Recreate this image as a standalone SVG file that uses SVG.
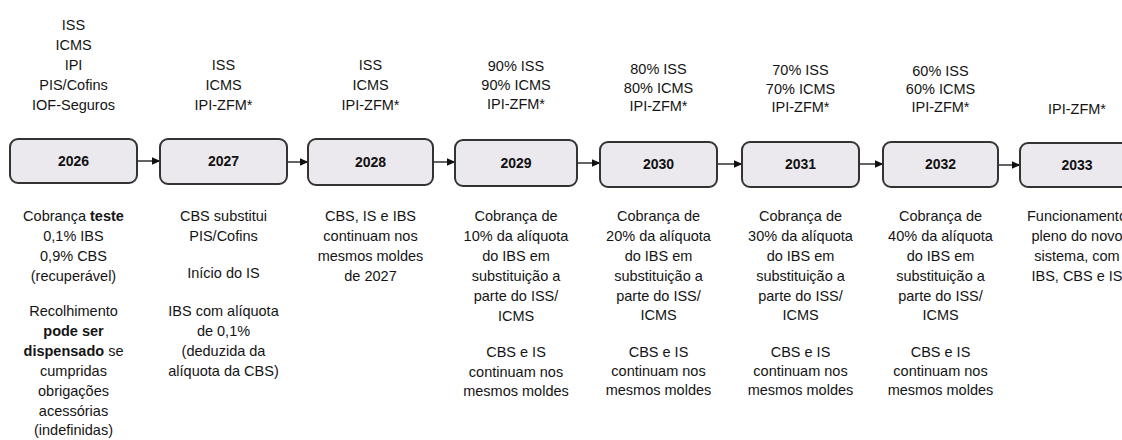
<svg xmlns="http://www.w3.org/2000/svg" width="1122" height="440" viewBox="0 0 1122 440">
<defs>
<style>
.t{font-family:"Liberation Sans",Arial,sans-serif;font-size:14.5px;fill:#141414;text-anchor:middle}
.b{font-weight:bold}
.yr{font-family:"Liberation Sans",Arial,sans-serif;font-size:14px;font-weight:bold;fill:#111;text-anchor:middle}
.box{fill:#ebe9ee;stroke:#333;stroke-width:2}
.conn{stroke:#222;stroke-width:1.4;fill:none}
</style>
<marker id="ah" markerWidth="9" markerHeight="8" refX="8.5" refY="4" orient="auto" markerUnits="userSpaceOnUse">
<path d="M0,0 L9,4 L0,8 Z" fill="#111"/>
</marker>
</defs>
<rect width="1122" height="440" fill="#ffffff"/>

<g id="connectors">
<line class="conn" x1="137" y1="161" x2="160" y2="161" marker-end="url(#ah)"/>
<line class="conn" x1="287" y1="162" x2="308" y2="162" marker-end="url(#ah)"/>
<line class="conn" x1="433" y1="162" x2="455" y2="162" marker-end="url(#ah)"/>
<line class="conn" x1="577" y1="163" x2="600" y2="163" marker-end="url(#ah)"/>
<line class="conn" x1="717" y1="164" x2="742" y2="164" marker-end="url(#ah)"/>
<line class="conn" x1="859" y1="164" x2="883" y2="164" marker-end="url(#ah)"/>
<line class="conn" x1="998" y1="165" x2="1020" y2="165" marker-end="url(#ah)"/>
</g>

<g id="n2026">
<text class="t"><tspan x="73.5" y="30">ISS</tspan><tspan x="73.5" y="50">ICMS</tspan><tspan x="73.5" y="70">IPI</tspan><tspan x="73.5" y="90">PIS/Cofins</tspan><tspan x="73.5" y="110">IOF-Seguros</tspan></text>
<rect class="box" x="10" y="139" width="127" height="44" rx="8"/>
<text class="yr" x="73.5" y="166">2026</text>
<text class="t"><tspan x="73.5" y="221">Cobrança <tspan class="b">teste</tspan></tspan><tspan x="73.5" y="241">0,1% IBS</tspan><tspan x="73.5" y="261">0,9% CBS</tspan><tspan x="73.5" y="281">(recuperável)</tspan><tspan x="73.5" y="316">Recolhimento</tspan><tspan x="73.5" y="336" class="b">pode ser</tspan><tspan x="73.5" y="356"><tspan class="b">dispensado</tspan> se</tspan><tspan x="73.5" y="376">cumpridas</tspan><tspan x="73.5" y="396">obrigações</tspan><tspan x="73.5" y="416">acessórias</tspan><tspan x="73.5" y="435">(indefinidas)</tspan></text>
</g>

<g id="n2027">
<text class="t"><tspan x="223.5" y="70">ISS</tspan><tspan x="223.5" y="90">ICMS</tspan><tspan x="223.5" y="110">IPI-ZFM*</tspan></text>
<rect class="box" x="160" y="139" width="127" height="45" rx="8"/>
<text class="yr" x="223.5" y="166">2027</text>
<text class="t"><tspan x="223.5" y="221">CBS substitui</tspan><tspan x="223.5" y="241">PIS/Cofins</tspan><tspan x="223.5" y="278">Início do IS</tspan><tspan x="223.5" y="316">IBS com alíquota</tspan><tspan x="223.5" y="336">de 0,1%</tspan><tspan x="223.5" y="356">(deduzida da</tspan><tspan x="223.5" y="376">alíquota da CBS)</tspan></text>
</g>

<g id="n2028">
<text class="t"><tspan x="370.5" y="70">ISS</tspan><tspan x="370.5" y="90">ICMS</tspan><tspan x="370.5" y="110">IPI-ZFM*</tspan></text>
<rect class="box" x="308" y="139" width="125" height="46" rx="8"/>
<text class="yr" x="370.5" y="167">2028</text>
<text class="t"><tspan x="370.5" y="221">CBS, IS e IBS</tspan><tspan x="370.5" y="241">continuam nos</tspan><tspan x="370.5" y="261">mesmos moldes</tspan><tspan x="370.5" y="281">de 2027</tspan></text>
</g>

<g id="n2029">
<text class="t"><tspan x="516" y="71">90% ISS</tspan><tspan x="516" y="90">90% ICMS</tspan><tspan x="516" y="109">IPI-ZFM*</tspan></text>
<rect class="box" x="455" y="140" width="122" height="46" rx="8"/>
<text class="yr" x="516" y="168">2029</text>
<text class="t"><tspan x="516" y="221">Cobrança de</tspan><tspan x="516" y="241">10% da alíquota</tspan><tspan x="516" y="261">do IBS em</tspan><tspan x="516" y="281">substituição a</tspan><tspan x="516" y="301">parte do ISS/</tspan><tspan x="516" y="321">ICMS</tspan><tspan x="516" y="357">CBS e IS</tspan><tspan x="516" y="377">continuam nos</tspan><tspan x="516" y="396">mesmos moldes</tspan></text>
</g>

<g id="n2030">
<text class="t"><tspan x="658.5" y="74">80% ISS</tspan><tspan x="658.5" y="93">80% ICMS</tspan><tspan x="658.5" y="111">IPI-ZFM*</tspan></text>
<rect class="box" x="600" y="142" width="117" height="45" rx="8"/>
<text class="yr" x="658.5" y="169">2030</text>
<text class="t"><tspan x="658.5" y="221">Cobrança de</tspan><tspan x="658.5" y="241">20% da alíquota</tspan><tspan x="658.5" y="261">do IBS em</tspan><tspan x="658.5" y="281">substituição a</tspan><tspan x="658.5" y="301">parte do ISS/</tspan><tspan x="658.5" y="320">ICMS</tspan><tspan x="658.5" y="357">CBS e IS</tspan><tspan x="658.5" y="376">continuam nos</tspan><tspan x="658.5" y="395">mesmos moldes</tspan></text>
</g>

<g id="n2031">
<text class="t"><tspan x="800.5" y="75">70% ISS</tspan><tspan x="800.5" y="94">70% ICMS</tspan><tspan x="800.5" y="112">IPI-ZFM*</tspan></text>
<rect class="box" x="742" y="142" width="117" height="45" rx="8"/>
<text class="yr" x="800.5" y="169">2031</text>
<text class="t"><tspan x="800.5" y="221">Cobrança de</tspan><tspan x="800.5" y="241">30% da alíquota</tspan><tspan x="800.5" y="261">do IBS em</tspan><tspan x="800.5" y="281">substituição a</tspan><tspan x="800.5" y="301">parte do ISS/</tspan><tspan x="800.5" y="320">ICMS</tspan><tspan x="800.5" y="357">CBS e IS</tspan><tspan x="800.5" y="376">continuam nos</tspan><tspan x="800.5" y="395">mesmos moldes</tspan></text>
</g>

<g id="n2032">
<text class="t"><tspan x="940.5" y="76">60% ISS</tspan><tspan x="940.5" y="94">60% ICMS</tspan><tspan x="940.5" y="112">IPI-ZFM*</tspan></text>
<rect class="box" x="883" y="142" width="115" height="45" rx="8"/>
<text class="yr" x="940.5" y="169">2032</text>
<text class="t"><tspan x="940.5" y="221">Cobrança de</tspan><tspan x="940.5" y="241">40% da alíquota</tspan><tspan x="940.5" y="261">do IBS em</tspan><tspan x="940.5" y="281">substituição a</tspan><tspan x="940.5" y="301">parte do ISS/</tspan><tspan x="940.5" y="320">ICMS</tspan><tspan x="940.5" y="357">CBS e IS</tspan><tspan x="940.5" y="376">continuam nos</tspan><tspan x="940.5" y="395">mesmos moldes</tspan></text>
</g>

<g id="n2033">
<text class="t"><tspan x="1077" y="114">IPI-ZFM*</tspan></text>
<rect class="box" x="1020" y="143" width="118" height="44" rx="8"/>
<text class="yr" x="1077" y="170">2033</text>
<text class="t"><tspan x="1077" y="221">Funcionamento</tspan><tspan x="1077" y="241">pleno do novo</tspan><tspan x="1077" y="261">sistema, com</tspan><tspan x="1077" y="281">IBS, CBS e IS</tspan></text>
</g>
</svg>
